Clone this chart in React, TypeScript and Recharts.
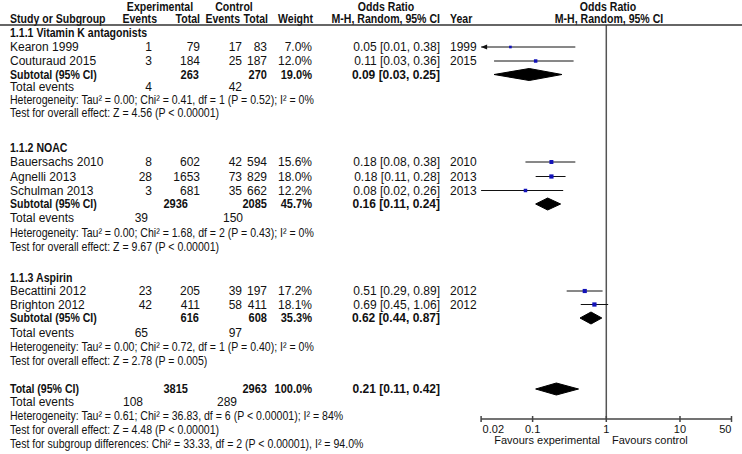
import React from "react";
import { ComposedChart, XAxis, YAxis, Scatter, ReferenceLine } from "recharts";

// study level data
const STUDIES = ["Kearon 1999", "Couturaud 2015", "Bauersachs 2010", "Agnelli 2013", "Schulman 2013", "Becattini 2012", "Brighton 2012"];
const STUDY_GROUP = [0, 0, 1, 1, 1, 2, 2];
const EXP_EVENTS = [1, 3, 8, 28, 3, 23, 42];
const EXP_TOTAL = [79, 184, 602, 1653, 681, 205, 411];
const CTRL_EVENTS = [17, 25, 42, 73, 35, 39, 58];
const CTRL_TOTAL = [83, 187, 594, 829, 662, 197, 411];
const WEIGHT = [7.0, 12.0, 15.6, 18.0, 12.2, 17.2, 18.1];
const OR_EST = [0.05, 0.11, 0.18, 0.18, 0.08, 0.51, 0.69];
const OR_LOW = [0.01, 0.03, 0.08, 0.11, 0.02, 0.29, 0.45];
const OR_HIGH = [0.38, 0.36, 0.38, 0.28, 0.26, 0.89, 1.06];
const YEARS = [1999, 2015, 2010, 2013, 2013, 2012, 2012];

// subgroups
const GROUPS = ["1.1.1 Vitamin K antagonists", "1.1.2 NOAC", "1.1.3 Aspirin"];
const SUB_EXP_TOTAL = [263, 2936, 616];
const SUB_CTRL_TOTAL = [270, 2085, 608];
const SUB_WEIGHT = [19.0, 45.7, 35.3];
const SUB_EST = [0.09, 0.16, 0.62];
const SUB_LOW = [0.03, 0.11, 0.44];
const SUB_HIGH = [0.25, 0.24, 0.87];
const SUB_EXP_EVENTS = [4, 39, 65];
const SUB_CTRL_EVENTS = [42, 150, 97];
const SUB_HET = [
  "Heterogeneity: Tau² = 0.00; Chi² = 0.41, df = 1 (P = 0.52); I² = 0%",
  "Heterogeneity: Tau² = 0.00; Chi² = 1.68, df = 2 (P = 0.43); I² = 0%",
  "Heterogeneity: Tau² = 0.00; Chi² = 0.72, df = 1 (P = 0.40); I² = 0%",
];
const SUB_TEST = [
  "Test for overall effect: Z = 4.56 (P < 0.00001)",
  "Test for overall effect: Z = 9.67 (P < 0.00001)",
  "Test for overall effect: Z = 2.78 (P = 0.005)",
];

// overall
const TOTAL_EXP = 3815;
const TOTAL_CTRL = 2963;
const TOTAL_WEIGHT = 100.0;
const TOTAL_OR = [0.21, 0.11, 0.42];
const TOTAL_EVENTS = [108, 289];
const TOTAL_HET = "Heterogeneity: Tau² = 0.61; Chi² = 36.83, df = 6 (P < 0.00001); I² = 84%";
const TOTAL_TEST = "Test for overall effect: Z = 4.48 (P < 0.00001)";
const SUBGROUP_TEST = "Test for subgroup differences: Chi² = 33.33, df = 2 (P < 0.00001), I² = 94.0%";

const AXIS_TICKS = [0.02, 0.1, 1, 10, 50];
const X_MIN = 0.02;
const X_MAX = 50;

// row layout (vertical position of each table line)
const STUDY_Y = [47, 61, 162, 176.5, 190.5, 291, 304.5];
const GROUP_Y = [33, 148, 278];
const SUB_Y = [74.5, 204, 318];
const SUB_EV_Y = [87, 218, 333];
const SUB_HET_Y = [100, 232.5, 346.5];
const SUB_TEST_Y = [113, 247, 361];
const TOT_Y = 389;
const TOT_EV_Y = 401.5;
const TOT_HET_Y = 416;
const TOT_TEST_Y = 430;
const SUBGRP_Y = 444;
const HEADER_LINE_Y = 25;
const PLOT_BOTTOM = 419;

const COL = { study: 10, expEv: 152, expTot: 200, ctrlEv: 242, ctrlTot: 267, weight: 312, or: 440, year: 450 };
const SUB_EXP_TOT_X = [199, 188, 199];
const SUB_EXP_EV_X = [152, 148, 148];
const SUB_CTRL_EV_X = [242, 243, 242];

const FONT = '"Liberation Sans", Arial, Helvetica, sans-serif';
const SQUARE = "#1212b8";
const DIAMOND_H = 6;
const NARROW = 0.88; // bold labels are set condensed

const fmtOr = (e: number, l: number, h: number) => `${e.toFixed(2)} [${l.toFixed(2)}, ${h.toFixed(2)}]`;

function T({ x, y, anchor = "start", bold = false, size = 12, sx = 1, children }: any) {
  return (
    <text
      transform={`translate(${x},${y}) scale(${sx},1)`}
      textAnchor={anchor}
      dominantBaseline="central"
      fontFamily={FONT}
      fontWeight={bold ? "bold" : "normal"}
      fontSize={size}
      fill="#111"
    >
      {children}
    </text>
  );
}

// bold label, condensed
const B = (props: any) => <T bold sx={NARROW} {...props} />;
// footnote line, condensed
const F = (props: any) => <T size={12.5} sx={0.845} {...props} />;

function AxisTick(props: any) {
  const { x, y, payload } = props;
  const v = payload.value;
  const anchor = v === X_MIN ? "start" : v === X_MAX ? "end" : "middle";
  const dx = v === X_MIN ? 1.5 : 0;
  return (
    <g>
      <line x1={x} x2={x} y1={y - 3} y2={y + 3} stroke="#444" strokeWidth={1.5} />
      <text x={x + dx} y={y + 10} textAnchor={anchor} dominantBaseline="central" fontFamily={FONT} fontSize={11} fill="#111">
        {String(v)}
      </text>
    </g>
  );
}

const studyPoints = STUDIES.map((_, i) => ({ x: OR_EST[i], y: STUDY_Y[i], w: WEIGHT[i] }));
const arrowPoints = STUDIES.map((_, i) => ({ x: X_MIN, y: STUDY_Y[i], lo: OR_LOW[i] })).filter((p) => p.lo < X_MIN);

const diamond = (est: number, lo: number, hi: number, y: number) => [
  { x: lo, y },
  { x: est, y: y - DIAMOND_H },
  { x: hi, y },
  { x: est, y: y + DIAMOND_H },
  { x: lo, y },
];
const diamonds = [
  ...GROUPS.map((_, g) => diamond(SUB_EST[g], SUB_LOW[g], SUB_HIGH[g], SUB_Y[g])),
  diamond(TOTAL_OR[0], TOTAL_OR[1], TOTAL_OR[2], TOT_Y),
];

const noShape = () => <g />;

export default function App() {
  return (
    <div style={{ position: "absolute", left: 0, top: 0, width: 742, height: 454, background: "#fff" }}>
      <ComposedChart width={742} height={454} margin={{ top: 0, right: 10.5, bottom: 0, left: 481.1 }}>
        <XAxis
          type="number"
          dataKey="x"
          scale="log"
          domain={[X_MIN, X_MAX]}
          ticks={AXIS_TICKS}
          interval={0}
          allowDataOverflow
          height={454 - PLOT_BOTTOM}
          tickSize={0}
          tickMargin={0}
          tickLine={false}
          axisLine={{ stroke: "#444", strokeWidth: 1.5 }}
          tick={<AxisTick />}
        />
        <YAxis type="number" dataKey="y" domain={[0, PLOT_BOTTOM]} reversed hide allowDataOverflow />
        <ReferenceLine
          segment={[{ x: 1, y: HEADER_LINE_Y }, { x: 1, y: PLOT_BOTTOM }]}
          stroke="#555"
          strokeWidth={1.5}
          ifOverflow="visible"
        />
        {STUDIES.map((s, i) => (
          <ReferenceLine
            key={s}
            segment={[{ x: Math.max(OR_LOW[i], X_MIN), y: STUDY_Y[i] }, { x: OR_HIGH[i], y: STUDY_Y[i] }]}
            stroke="#111"
            strokeWidth={1}
            ifOverflow="visible"
          />
        ))}
        <Scatter
          data={studyPoints}
          isAnimationActive={false}
          shape={(p: any) => {
            const s = Math.sqrt(p.payload.w);
            return <rect x={p.cx - s / 2} y={p.cy - s / 2} width={s} height={s} fill={SQUARE} />;
          }}
        />
        <Scatter
          data={arrowPoints}
          isAnimationActive={false}
          shape={(p: any) => (
            <path d={`M${p.cx},${p.cy} L${p.cx + 6},${p.cy - 2.5} L${p.cx + 6},${p.cy + 2.5} Z`} fill="#111" />
          )}
        />
        {diamonds.map((d, i) => (
          <Scatter
            key={i}
            data={d}
            isAnimationActive={false}
            shape={noShape}
            line={{ fill: "#000", stroke: "#000", strokeWidth: 1 }}
            lineJointType="linear"
          />
        ))}
      </ComposedChart>

      <svg width={742} height={454} style={{ position: "absolute", left: 0, top: 0, pointerEvents: "none" }}>
        {/* header */}
        <B x={160} y={6.5} anchor="middle">Experimental</B>
        <B x={234} y={6.5} anchor="middle">Control</B>
        <B x={386} y={6.5} anchor="middle">Odds Ratio</B>
        <B x={608} y={6.5} anchor="middle">Odds Ratio</B>
        <B x={COL.study} y={18.5}>Study or Subgroup</B>
        <B x={157} y={18.5} anchor="end">Events</B>
        <B x={200} y={18.5} anchor="end">Total</B>
        <B x={240} y={18.5} anchor="end">Events</B>
        <B x={268} y={18.5} anchor="end">Total</B>
        <B x={313} y={18.5} anchor="end">Weight</B>
        <B x={440} y={18.5} anchor="end">M-H, Random, 95% CI</B>
        <B x={COL.year} y={18.5}>Year</B>
        <B x={609} y={18.5} anchor="middle">M-H, Random, 95% CI</B>
        <line x1={0} x2={742} y1={HEADER_LINE_Y} y2={HEADER_LINE_Y} stroke="#333" strokeWidth={1.5} />

        {GROUPS.map((g, gi) => (
          <g key={g}>
            <B x={COL.study} y={GROUP_Y[gi]}>{g}</B>
            {STUDIES.map((s, i) =>
              STUDY_GROUP[i] !== gi ? null : (
                <g key={s}>
                  <T x={COL.study} y={STUDY_Y[i]}>{s}</T>
                  <T x={COL.expEv} y={STUDY_Y[i]} anchor="end">{EXP_EVENTS[i]}</T>
                  <T x={COL.expTot} y={STUDY_Y[i]} anchor="end">{EXP_TOTAL[i]}</T>
                  <T x={COL.ctrlEv} y={STUDY_Y[i]} anchor="end">{CTRL_EVENTS[i]}</T>
                  <T x={COL.ctrlTot} y={STUDY_Y[i]} anchor="end">{CTRL_TOTAL[i]}</T>
                  <T x={COL.weight} y={STUDY_Y[i]} anchor="end">{WEIGHT[i].toFixed(1)}%</T>
                  <T x={COL.or} y={STUDY_Y[i]} anchor="end">{fmtOr(OR_EST[i], OR_LOW[i], OR_HIGH[i])}</T>
                  <T x={COL.year} y={STUDY_Y[i]}>{YEARS[i]}</T>
                </g>
              )
            )}
            <B x={COL.study} y={SUB_Y[gi]}>Subtotal (95% CI)</B>
            <B x={SUB_EXP_TOT_X[gi]} y={SUB_Y[gi]} anchor="end" sx={0.92}>{SUB_EXP_TOTAL[gi]}</B>
            <B x={COL.ctrlTot} y={SUB_Y[gi]} anchor="end" sx={0.92}>{SUB_CTRL_TOTAL[gi]}</B>
            <B x={COL.weight} y={SUB_Y[gi]} anchor="end" sx={0.92}>{SUB_WEIGHT[gi].toFixed(1)}%</B>
            <T x={COL.or} y={SUB_Y[gi]} anchor="end" bold>{fmtOr(SUB_EST[gi], SUB_LOW[gi], SUB_HIGH[gi])}</T>
            <T x={COL.study} y={SUB_EV_Y[gi]}>Total events</T>
            <T x={SUB_EXP_EV_X[gi]} y={SUB_EV_Y[gi]} anchor="end">{SUB_EXP_EVENTS[gi]}</T>
            <T x={SUB_CTRL_EV_X[gi]} y={SUB_EV_Y[gi]} anchor="end">{SUB_CTRL_EVENTS[gi]}</T>
            <F x={COL.study} y={SUB_HET_Y[gi]}>{SUB_HET[gi]}</F>
            <F x={COL.study} y={SUB_TEST_Y[gi]}>{SUB_TEST[gi]}</F>
          </g>
        ))}

        <B x={COL.study} y={TOT_Y}>Total (95% CI)</B>
        <B x={188} y={TOT_Y} anchor="end" sx={0.92}>{TOTAL_EXP}</B>
        <B x={COL.ctrlTot} y={TOT_Y} anchor="end" sx={0.92}>{TOTAL_CTRL}</B>
        <B x={COL.weight} y={TOT_Y} anchor="end" sx={0.92}>{TOTAL_WEIGHT.toFixed(1)}%</B>
        <T x={COL.or} y={TOT_Y} anchor="end" bold>{fmtOr(TOTAL_OR[0], TOTAL_OR[1], TOTAL_OR[2])}</T>
        <T x={COL.study} y={TOT_EV_Y}>Total events</T>
        <T x={143} y={TOT_EV_Y} anchor="end">{TOTAL_EVENTS[0]}</T>
        <T x={237} y={TOT_EV_Y} anchor="end">{TOTAL_EVENTS[1]}</T>
        <F x={COL.study} y={TOT_HET_Y}>{TOTAL_HET}</F>
        <F x={COL.study} y={TOT_TEST_Y}>{TOTAL_TEST}</F>
        <F x={COL.study} y={SUBGRP_Y}>{SUBGROUP_TEST}</F>

        <T x={600} y={439.5} anchor="end" size={11}>Favours experimental</T>
        <T x={612} y={439.5} size={11}>Favours control</T>
      </svg>
    </div>
  );
}
